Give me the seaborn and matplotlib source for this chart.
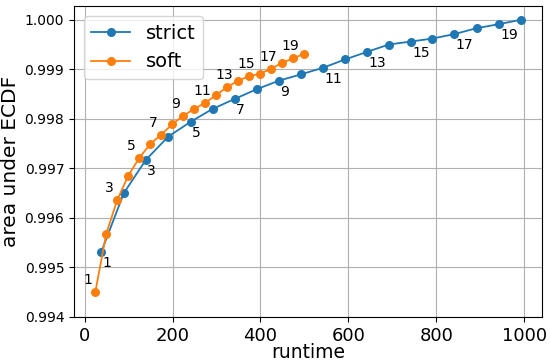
import matplotlib
matplotlib.use("Agg")
import matplotlib.pyplot as plt
import numpy as np
import pandas as pd
import seaborn as sns

# %% values
strict_runtime = [38, 89, 139, 190, 241, 291, 341, 392, 442, 493,
                  542, 593, 642, 692, 742, 791, 841, 892, 942, 993]
strict_area = [0.99532, 0.99650, 0.99717, 0.99764, 0.99794, 0.99820, 0.99840, 0.99860, 0.99877, 0.99890,
               0.99903, 0.99920, 0.99935, 0.99950, 0.99956, 0.99962, 0.99971, 0.99983, 0.99991, 1.00000]

soft_runtime = [24, 49, 74, 99, 124, 149, 174, 199, 224, 249,
                274, 299, 324, 349, 374, 399, 424, 449, 474, 499]
soft_area = [0.99450, 0.99568, 0.99636, 0.99685, 0.99721, 0.99749, 0.99768, 0.99789, 0.99806, 0.99820,
             0.99832, 0.99848, 0.99864, 0.99877, 0.99886, 0.99891, 0.99901, 0.99913, 0.99922, 0.99931]

methods = ["strict", "soft"]

df = pd.concat([
    pd.DataFrame({"runtime": strict_runtime, "area": strict_area, "method": "strict", "k": np.arange(1, 21)}),
    pd.DataFrame({"runtime": soft_runtime, "area": soft_area, "method": "soft", "k": np.arange(1, 21)}),
])

# %%
fig, ax = plt.subplots(figsize=(5.5, 3.61), dpi=100)
sns.lineplot(df, x="runtime", y="area", hue="method", hue_order=methods,
             palette=["tab:blue", "tab:orange"], marker="o", markersize=6.5,
             markeredgewidth=0, linewidth=1.3, ax=ax)

# label every other point
for _, row in df[df["k"] % 2 == 1].iterrows():
    if row["method"] == "strict":
        off = (1.5, -11)
    else:
        off = (-12, 12)
    ax.annotate(str(row["k"]), (row["runtime"], row["area"]), xytext=off,
                textcoords="offset pixels", ha="left", va="center", fontsize=10)

ax.set_ylim(bottom=0.994)
ax.grid(True, color="#b0b0b0", linewidth=0.8)
ax.tick_params(axis="x", labelsize=13)
ax.tick_params(axis="y", labelsize=10)
ax.set_xlabel("runtime", fontsize=13.5, labelpad=-1)
ax.set_ylabel("area under ECDF", fontsize=14.5, labelpad=3)
handles, labels = ax.get_legend_handles_labels()
ax.legend(handles, labels, loc="upper left", fontsize=14, title=None)

plt.subplots_adjust(left=0.1345, right=0.986, top=0.983, bottom=0.122)
plt.savefig("out.png", dpi=100)
